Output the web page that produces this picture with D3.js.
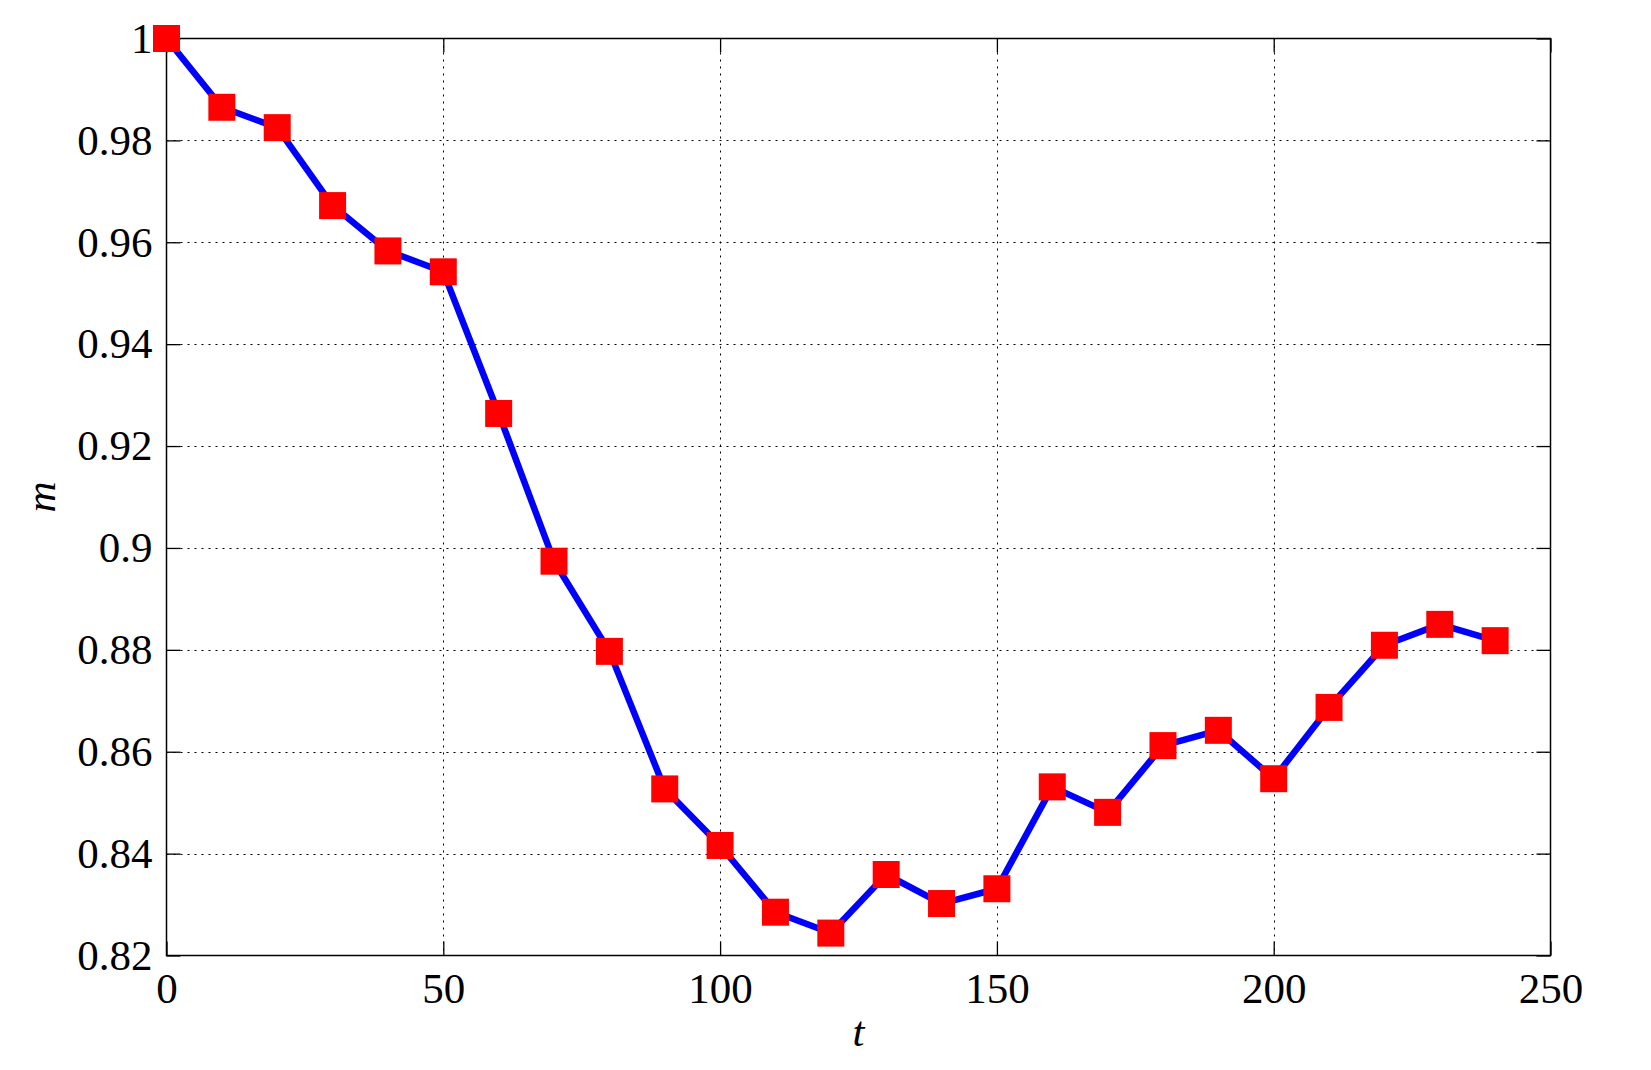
<!DOCTYPE html>
<html>
<head>
<meta charset="utf-8">
<script src="https://cdn.jsdelivr.net/npm/d3@7"></script>
<style>
html,body{margin:0;padding:0;background:#fff;}
svg{display:block;}
text{font-family:"Liberation Serif","Times New Roman",serif;fill:#000;}
</style>
</head>
<body>
<script>
// Data
const tValues = [0,10,20,30,40,50,60,70,80,90,100,110,120,130,140,150,160,170,180,190,200,210,220,230,240];
const mValues = [1.0,0.9865,0.9825,0.9672,0.9583,0.9542,0.9264,0.8974,0.8797,0.8527,0.8416,0.8285,0.8244,0.8359,0.8302,0.8331,0.8531,0.8481,0.8612,0.8642,0.8547,0.8687,0.8809,0.8850,0.8818];
const xTicks = [0,50,100,150,200,250];
const yTicks = [0.82,0.84,0.86,0.88,0.9,0.92,0.94,0.96,0.98,1];
const yTickLabels = ["0.82","0.84","0.86","0.88","0.9","0.92","0.94","0.96","0.98","1"];
const xLabel = "t";
const yLabel = "m";

const W = 1651, H = 1070;
const L = 166.5, R = 1550.5, T = 38.5, B = 955.5;

const svg = d3.select("body").append("svg").attr("width", W).attr("height", H);

const x = d3.scaleLinear().domain([0,250]).range([L,R]);
const y = d3.scaleLinear().domain([0.82,1]).range([B,T]);

// grid
const grid = svg.append("g").attr("stroke","#000").attr("stroke-width",1).attr("stroke-dasharray","2,5");
grid.selectAll("line.gx").data(xTicks.slice(1,-1)).join("line")
  .attr("x1",d=>Math.round(x(d))+0.5).attr("x2",d=>Math.round(x(d))+0.5).attr("y1",T).attr("y2",B);
grid.selectAll("line.gy").data(yTicks.slice(1,-1)).join("line")
  .attr("y1",d=>Math.round(y(d))+0.5).attr("y2",d=>Math.round(y(d))+0.5).attr("x1",L).attr("x2",R);

const fs = 43;
const tickLen = 14;
// axes
const xAxisB = d3.axisBottom(x).tickValues(xTicks).tickSizeInner(-tickLen).tickSizeOuter(0).tickPadding(17).tickFormat(d3.format("d"));
const gxb = svg.append("g").attr("transform",`translate(0,${B})`).call(xAxisB);
const xAxisT = d3.axisTop(x).tickValues(xTicks).tickSizeInner(-tickLen).tickSizeOuter(0).tickFormat("");
const gxt = svg.append("g").attr("transform",`translate(0,${T})`).call(xAxisT);
const yAxisL = d3.axisLeft(y).tickValues(yTicks).tickSizeInner(-tickLen).tickSizeOuter(0).tickPadding(14).tickFormat((d,i)=>yTickLabels[i]);
const gyl = svg.append("g").attr("transform",`translate(${L},0)`).call(yAxisL);
const yAxisR = d3.axisRight(y).tickValues(yTicks).tickSizeInner(-tickLen).tickSizeOuter(0).tickFormat("");
const gyr = svg.append("g").attr("transform",`translate(${R},0)`).call(yAxisR);

[gxb,gxt,gyl,gyr].forEach(g=>{
  g.select(".domain").remove();
  g.selectAll("line").attr("stroke","#000").attr("stroke-width",1.3);
  g.selectAll("text").attr("font-family",'"Liberation Serif",serif').attr("font-size",fs).attr("fill","#000");
});
gxb.selectAll("text").attr("dy","0.72em");

// box
svg.append("rect").attr("x",L).attr("y",T).attr("width",R-L).attr("height",B-T)
  .attr("fill","none").attr("stroke","#000").attr("stroke-width",1.5);

// line
const pts = tValues.map((t,i)=>[t,mValues[i]]);
svg.append("path").datum(pts)
  .attr("fill","none").attr("stroke","#0000ff").attr("stroke-width",6.5).attr("stroke-linejoin","round")
  .attr("d", d3.line().x(d=>x(d[0])).y(d=>y(d[1])));

// markers
const ms = 27;
svg.append("g").selectAll("rect").data(pts).join("rect")
  .attr("x",d=>x(d[0])-ms/2).attr("y",d=>y(d[1])-ms/2).attr("width",ms).attr("height",ms)
  .attr("fill","#ff0000");

// labels
svg.append("text").attr("x",(L+R)/2).attr("y",1046).attr("text-anchor","middle")
  .attr("font-size",fs).attr("font-style","italic").text(xLabel);
svg.append("text").attr("transform",`translate(55,${(T+B)/2}) rotate(-90)`).attr("text-anchor","middle")
  .attr("font-size",fs).attr("font-style","italic").text(yLabel);
</script>
</body>
</html>
